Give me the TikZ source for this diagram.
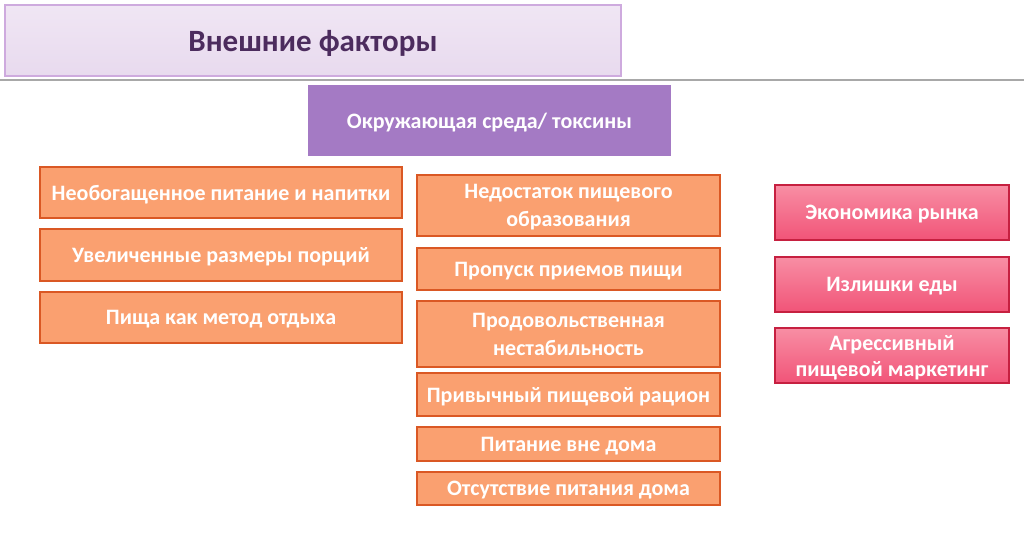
\documentclass[tikz,border=0pt]{standalone}
\usepackage{fontspec}
\setmainfont{Carlito}
\definecolor{ttfill}{RGB}{240,230,244}
\definecolor{ttfillb}{RGB}{232,218,238}
\definecolor{ttdraw}{RGB}{206,170,222}
\definecolor{tttext}{RGB}{76,44,94}
\definecolor{envfill}{RGB}{164,122,196}
\definecolor{orfill}{RGB}{250,160,112}
\definecolor{ordraw}{RGB}{218,88,36}
\definecolor{pktop}{RGB}{248,142,164}
\definecolor{pkbot}{RGB}{241,84,120}
\definecolor{pkdraw}{RGB}{198,32,64}
\definecolor{rulegray}{RGB}{168,168,168}

\begin{document}
\begin{tikzpicture}[x=1pt,y=-1pt,font=\bfseries\fontsize{22}{28}\selectfont,
  box/.style={rectangle,inner sep=0pt,align=center,text=white,text depth=0pt},
  titlebox/.style={box,draw=ttdraw,line width=2pt,top color=ttfill,bottom color=ttfillb,
    text=tttext,font=\bfseries\fontsize{31}{36}\selectfont},
  envbox/.style={box,fill=envfill},
  foodbox/.style={box,draw=ordraw,line width=2.5pt,fill=orfill},
  mktbox/.style={box,draw=pkdraw,line width=2.5pt,top color=pktop,bottom color=pkbot,
    font=\bfseries\fontsize{22}{26}\selectfont}]
  \useasboundingbox[fill=white] (0,0) rectangle (1024,544);
  \node[titlebox,minimum width=616pt,minimum height=71pt] (ext) at (313,40.5) {Внешние факторы};
  \coordinate (rl) at (0,80);
  \coordinate (rr) at (1024,80);
  \draw[rulegray,line width=2.5pt] (rl) -- (rr);
  \node[envbox,minimum width=363pt,minimum height=71pt] (env) at (489.5,120.5) {Окружающая среда/ токсины};

  \node[foodbox,minimum width=362pt,minimum height=51pt] (unfort) at (221,192.5) {Необогащенное питание и напитки};
  \node[foodbox,minimum width=362pt,minimum height=52pt] (portion) at (221,255) {Увеличенные размеры порций};
  \node[foodbox,minimum width=362pt,minimum height=51pt] (relax) at (221,317.5) {Пища как метод отдыха};

  \node[foodbox,minimum width=303pt,minimum height=61pt] (educ) at (568.5,205.5) {Недостаток пищевого\\образования};
  \node[foodbox,minimum width=303pt,minimum height=42pt] (skip) at (568.5,269) {Пропуск приемов пищи};
  \node[foodbox,minimum width=303pt,minimum height=66pt] (insec) at (568.5,334) {Продовольственная\\нестабильность};
  \node[foodbox,minimum width=303pt,minimum height=43pt] (habit) at (568.5,394.5) {Привычный пищевой рацион};
  \node[foodbox,minimum width=303pt,minimum height=34pt] (away) at (568.5,444) {Питание вне дома};
  \node[foodbox,minimum width=303pt,minimum height=33pt] (nohome) at (568.5,488.5) {Отсутствие питания дома};

  \node[mktbox,minimum width=234pt,minimum height=55pt] (econ) at (892,212.5) {Экономика рынка};
  \node[mktbox,minimum width=234pt,minimum height=55pt] (surplus) at (892,284.5) {Излишки еды};
  \node[mktbox,minimum width=234pt,minimum height=55pt] (advert) at (892,355.5) {Агрессивный\\пищевой маркетинг};
\end{tikzpicture}
\end{document}
